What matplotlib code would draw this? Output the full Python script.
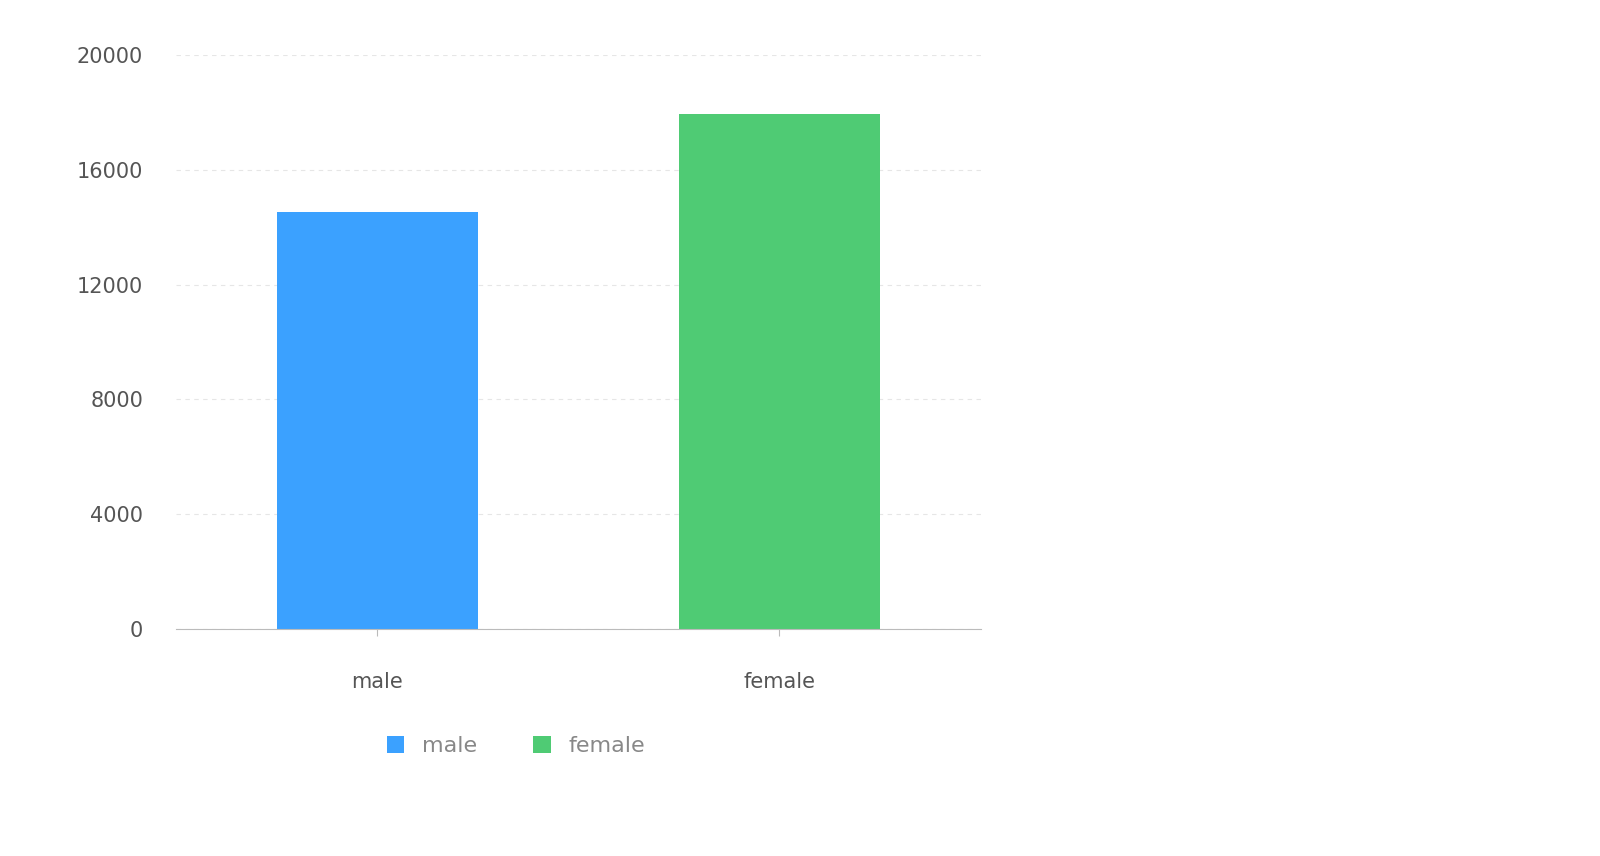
import matplotlib.pyplot as plt

categories = ["male", "female"]
values = [14550, 17960]
colors = ["#3ba1ff", "#4fcb74"]
yticks = [0, 4000, 8000, 12000, 16000, 20000]

W, H = 1600, 856
S = 1600 / 1560  # reference was measured at display scale
fig = plt.figure(figsize=(W / 100, H / 100), dpi=100)
ax = fig.add_axes([172 * S / W, 1 - 613 * S / H, (956 - 172) * S / W, (613 - 54) * S / H])

bars = ax.bar(range(len(categories)), values, width=0.5, color=colors, zorder=2)
ax.set_xlim(-0.5, 1.5)
ax.set_ylim(0, 20000)
ax.set_yticks(yticks)
ax.set_yticklabels([str(t) for t in yticks], fontsize=15, color="#555555")
ax.set_xticks(range(len(categories)))
ax.set_xticklabels(categories, fontsize=15, color="#555555")
ax.tick_params(axis="y", length=0, pad=24)
ax.tick_params(axis="x", length=5, color="#bbbbbb", pad=26)
ax.yaxis.grid(True, linestyle=(0, (4, 4)), color="#e6e6e6", zorder=0)
for s in ["top", "right", "left"]:
    ax.spines[s].set_visible(False)
ax.spines["bottom"].set_color("#bbbbbb")

leg = fig.legend(bars, categories, loc="center", bbox_to_anchor=(503 * S / W, 1 - 727 * S / H),
                 ncol=2, frameon=False, fontsize=16, handlelength=0.8, handleheight=0.8,
                 columnspacing=2.5, handletextpad=0.8)
for t in leg.get_texts():
    t.set_color("#888888")

# cut-off label of a second chart below
fig.text(148 * S / W, 1 - 848 * S / H, "20000", ha="right", va="center", fontsize=15, color="#555555")

fig.savefig("out.png", dpi=100, facecolor="white")
